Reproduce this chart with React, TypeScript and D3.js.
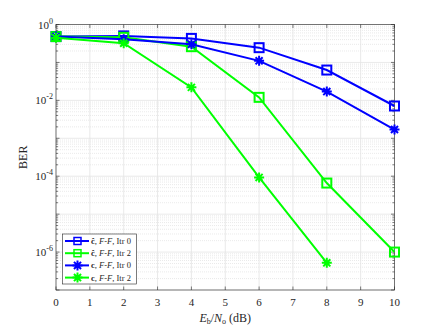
import React, { useEffect, useRef } from 'react'
import * as d3 from 'd3'

const snr = [0, 2, 4, 6, 8, 10]
const chatItr0 = [0.48, 0.5, 0.43, 0.245, 0.063, 0.0071]
const chatItr2 = [0.48, 0.46, 0.26, 0.012, 6.6e-5, 1.0e-6]
const cItr0 = [0.48, 0.41, 0.3, 0.11, 0.017, 0.0017]
const cItr2 = [0.45, 0.32, 0.022, 9.3e-5, 5.2e-7]
const xTicks = [0, 1, 2, 3, 4, 5, 6, 7, 8, 9, 10]
const yTickExps = [0, -2, -4, -6]

const series = [
  { hat: true, itr: 0, color: '#0000ff', marker: 'square', values: chatItr0 },
  { hat: true, itr: 2, color: '#00ff00', marker: 'square', values: chatItr2 },
  { hat: false, itr: 0, color: '#0000ff', marker: 'star', values: cItr0 },
  { hat: false, itr: 2, color: '#00ff00', marker: 'star', values: cItr2 },
]

const W = 436
const H = 327
const left = 56
const right = 394.5
const top = 24.5
const bottom = 290
const font = '"Liberation Serif", "DejaVu Serif", serif'

function drawMarker(g: any, kind: string, x: number, y: number, color: string) {
  if (kind === 'square') {
    g.append('rect')
      .attr('x', x - 4.5).attr('y', y - 4.5)
      .attr('width', 9).attr('height', 9)
      .attr('fill', 'none').attr('stroke', color).attr('stroke-width', 2)
  } else {
    const r = 5
    const p = d3.path()
    for (let i = 0; i < 4; i++) {
      const a = (i * Math.PI) / 4
      p.moveTo(x + r * Math.cos(a), y + r * Math.sin(a))
      p.lineTo(x - r * Math.cos(a), y - r * Math.sin(a))
    }
    g.append('path').attr('d', p.toString()).attr('stroke', color).attr('stroke-width', 2).attr('fill', 'none')
  }
}

export default function App() {
  const ref = useRef<SVGSVGElement>(null)

  useEffect(() => {
    const svg = d3.select(ref.current)
    svg.selectAll('*').remove()

    const x = d3.scaleLinear().domain([0, 10]).range([left, right])
    const y = d3.scaleLog().domain([1e-7, 1]).range([bottom, top])

    svg.append('rect').attr('width', W).attr('height', H).attr('fill', 'white')

    const grid = svg.append('g')
    // minor y grid
    for (let e = -7; e < 0; e++) {
      for (let m = 2; m <= 9; m++) {
        const yy = y(m * Math.pow(10, e))
        grid.append('line').attr('x1', left).attr('x2', right).attr('y1', yy).attr('y2', yy)
          .attr('stroke', '#dcdcdc').attr('stroke-width', 0.6).attr('stroke-dasharray', '1,1')
      }
    }
    for (let e = -7; e <= 0; e++) {
      const yy = y(Math.pow(10, e))
      grid.append('line').attr('x1', left).attr('x2', right).attr('y1', yy).attr('y2', yy)
        .attr('stroke', '#e3e3e3').attr('stroke-width', 0.8)
    }
    xTicks.forEach(t => {
      grid.append('line').attr('x1', x(t)).attr('x2', x(t)).attr('y1', top).attr('y2', bottom)
        .attr('stroke', '#e3e3e3').attr('stroke-width', 0.8)
    })

    // ticks
    const tk = svg.append('g').attr('stroke', '#262626').attr('stroke-width', 0.6)
    xTicks.forEach(t => {
      tk.append('line').attr('x1', x(t)).attr('x2', x(t)).attr('y1', bottom).attr('y2', bottom - 3.5)
      tk.append('line').attr('x1', x(t)).attr('x2', x(t)).attr('y1', top).attr('y2', top + 3.5)
    })
    for (let e = -7; e <= 0; e++) {
      const yy = y(Math.pow(10, e))
      tk.append('line').attr('x1', left).attr('x2', left + 3.5).attr('y1', yy).attr('y2', yy)
      tk.append('line').attr('x1', right).attr('x2', right - 3.5).attr('y1', yy).attr('y2', yy)
      if (e < 0) {
        for (let m = 2; m <= 9; m++) {
          const ym = y(m * Math.pow(10, e))
          tk.append('line').attr('x1', left).attr('x2', left + 2).attr('y1', ym).attr('y2', ym)
          tk.append('line').attr('x1', right).attr('x2', right - 2).attr('y1', ym).attr('y2', ym)
        }
      }
    }

    svg.append('rect').attr('x', left).attr('y', top).attr('width', right - left).attr('height', bottom - top)
      .attr('fill', 'none').attr('stroke', '#262626').attr('stroke-width', 0.6)

    // tick labels
    xTicks.forEach(t => {
      svg.append('text').attr('x', x(t)).attr('y', bottom + 16).attr('text-anchor', 'middle')
        .attr('font-family', font).attr('font-size', 11).attr('fill', '#262626').text(t)
    })
    yTickExps.forEach(e => {
      const t = svg.append('text').attr('x', left - 3).attr('y', y(Math.pow(10, e)) + 4)
        .attr('text-anchor', 'end').attr('font-family', font).attr('font-size', 11).attr('fill', '#262626')
      t.append('tspan').text('10')
      t.append('tspan').attr('dy', -5).attr('font-size', 8).text(e === 0 ? '0' : '-' + Math.abs(e))
    })

    // axis labels
    svg.append('text').attr('transform', `translate(27,${(top + bottom) / 2}) rotate(-90)`)
      .attr('text-anchor', 'middle').attr('font-family', font).attr('font-size', 12).attr('fill', '#262626')
      .text('BER')
    const xl = svg.append('text').attr('x', (left + right) / 2).attr('y', 322).attr('text-anchor', 'middle')
      .attr('font-family', font).attr('font-size', 12).attr('fill', '#262626')
    xl.append('tspan').attr('font-style', 'italic').text('E')
    xl.append('tspan').attr('font-size', 8).attr('dy', 2).text('b')
    xl.append('tspan').attr('dy', -2).text('/')
    xl.append('tspan').attr('font-style', 'italic').text('N')
    xl.append('tspan').attr('font-size', 8).attr('dy', 2).text('o')
    xl.append('tspan').attr('dy', -2).text(' (dB)')

    // series
    series.forEach(s => {
      const pts = s.values.map((v, i) => [x(snr[i]), y(v)] as [number, number])
      svg.append('path').attr('d', d3.line()(pts)).attr('fill', 'none')
        .attr('stroke', s.color).attr('stroke-width', 2)
      const g = svg.append('g')
      pts.forEach(p => drawMarker(g, s.marker, p[0], p[1], s.color))
    })

    // legend
    const lg = svg.append('g')
    lg.append('rect').attr('x', 62.5).attr('y', 234).attr('width', 74).attr('height', 50)
      .attr('fill', 'white').attr('stroke', '#262626').attr('stroke-width', 0.6)
    series.forEach((s, i) => {
      const yy = 241 + i * 12.2
      lg.append('line').attr('x1', 65).attr('x2', 89).attr('y1', yy).attr('y2', yy)
        .attr('stroke', s.color).attr('stroke-width', 2)
      const mg = lg.append('g')
      if (s.marker === 'square') {
        mg.append('rect').attr('x', 74).attr('y', yy - 3.5).attr('width', 7).attr('height', 7)
          .attr('fill', 'none').attr('stroke', s.color).attr('stroke-width', 1.5)
      } else {
        drawMarker(mg, 'star', 77.5, yy, s.color)
      }
      const t = lg.append('text').attr('x', 91).attr('y', yy + 3).attr('font-family', font)
        .attr('font-size', 8.5).attr('fill', '#262626')
      t.append('tspan').attr('font-weight', 'bold').text(s.hat ? 'ĉ' : 'c')
      t.append('tspan').text(', ')
      t.append('tspan').attr('font-style', 'italic').text('F')
      t.append('tspan').text('-')
      t.append('tspan').attr('font-style', 'italic').text('F')
      t.append('tspan').text(', Itr ' + s.itr)
    })
  }, [])

  return (
    <svg ref={ref} width={W} height={H} style={{ position: 'absolute', left: 0, top: 0 }} />
  )
}
